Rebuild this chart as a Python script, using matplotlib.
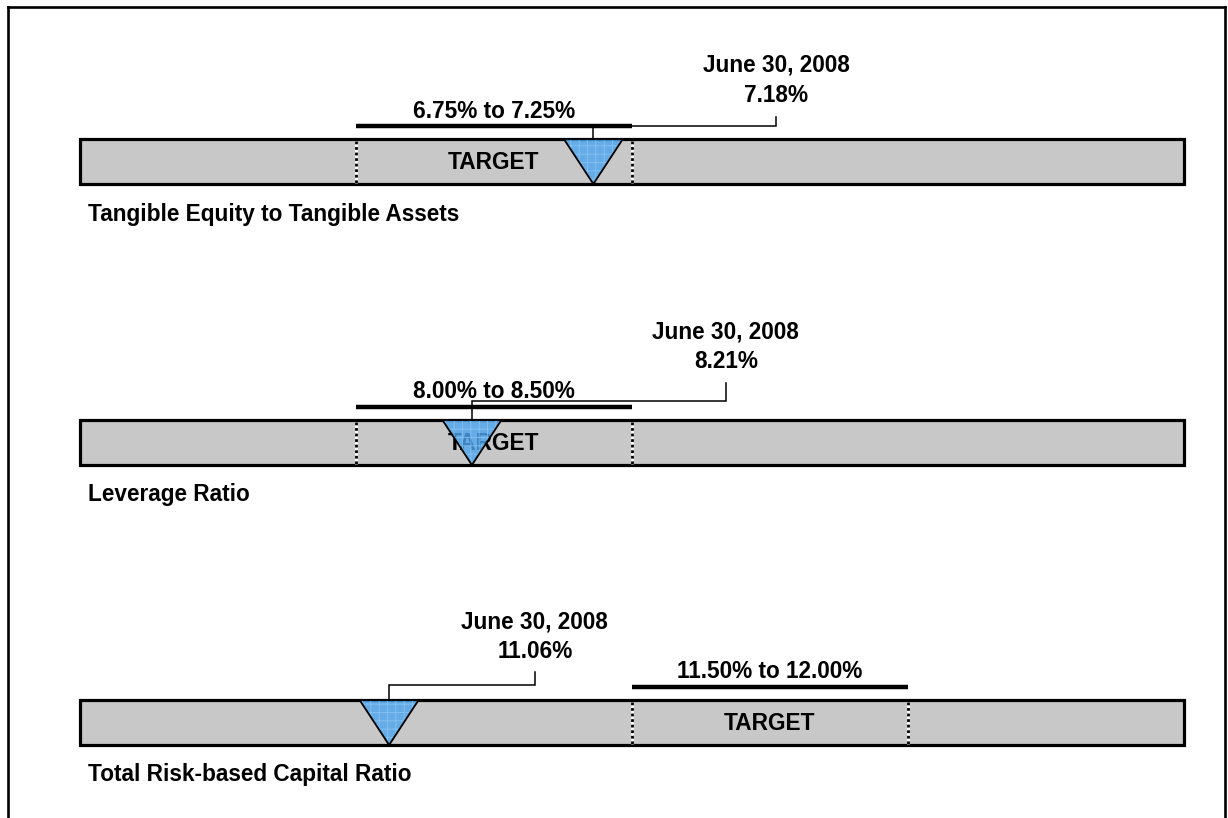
import matplotlib
matplotlib.use("Agg")
import matplotlib.pyplot as plt
from matplotlib.patches import Polygon
from matplotlib.lines import Line2D

plt.rcParams['font.family'] = ['Liberation Sans', 'DejaVu Sans']
plt.rcParams['hatch.linewidth'] = 0.6

# ---- data ----
titles = ["Tangible Equity to Tangible Assets", "Leverage Ratio", "Total Risk-based Capital Ratio"]
target_lo = [6.75, 8.00, 11.50]
target_hi = [7.25, 8.50, 12.00]
target_labels = ["6.75% to 7.25%", "8.00% to 8.50%", "11.50% to 12.00%"]
actual = [7.18, 8.21, 11.06]
actual_labels = ["7.18%", "8.21%", "11.06%"]
date_label = "June 30, 2008"
scale_min = [6.25, 7.50, 10.50]
scale_max = [8.25, 9.50, 12.50]

# ---- layout (pixels) ----
W, H = 1228, 818
bar_tops = [139, 420, 700]
bar_h = 45
ax_left, ax_right = 80, 1184
callout_x = [7.511, 8.670, 11.324]          # data coords of label column
callout_horiz = [-13, -19, -15]
callout_top = [-22, -37, -28]
value_y = [-44, -58, -48]
date_y = [-74, -88, -78]
fs = 16.3
tri_half = 29.5 / 552.0

fig = plt.figure(figsize=(W / 100, H / 100), dpi=100)
fig.patch.set_facecolor('white')

# outer frame
lw_frame = 1.9
fig.add_artist(Line2D([8 / W, 8 / W], [0, 1 - 7 / H], transform=fig.transFigure, color='black', lw=lw_frame))
fig.add_artist(Line2D([8 / W, 1225 / W], [1 - 7 / H, 1 - 7 / H], transform=fig.transFigure, color='black', lw=lw_frame))
fig.add_artist(Line2D([1225 / W, 1225 / W], [1 - 7 / H, 0], transform=fig.transFigure, color='black', lw=lw_frame))

for i in range(3):
    T = bar_tops[i]
    ax = fig.add_axes([ax_left / W, 1 - (T + 100) / H, (ax_right - ax_left) / W, 200 / H])
    ax.set_xlim(scale_min[i], scale_max[i])
    ax.set_ylim(100, -100)
    ax.axis('off')

    # gray bar
    ax.barh(bar_h / 2, scale_max[i] - scale_min[i], left=scale_min[i], height=bar_h,
            color='#c8c8c8', edgecolor='black', linewidth=2.3, zorder=1, clip_on=False)

    # target boundaries (dotted)
    for xv in (target_lo[i], target_hi[i]):
        ax.vlines(xv, 1.5, bar_h - 1.5, colors='white', linewidth=2.0, zorder=2)
        ax.vlines(xv, 1.5, bar_h - 1.5, colors='black', linewidth=2.0, linestyles=(0, (1.0, 1.0)), zorder=2.1)

    # TARGET text
    tmid = (target_lo[i] + target_hi[i]) / 2
    ax.text(tmid, bar_h / 2 + 1, "TARGET", ha='center', va='center', fontsize=fs,
            fontweight='bold', zorder=3)

    # target range line + label
    ax.hlines(-13, target_lo[i], target_hi[i], colors='black', linewidth=3.2, zorder=5)
    ax.text(tmid, -28, target_labels[i], ha='center', va='center', fontsize=fs,
            fontweight='bold', zorder=5)

    # triangle marker
    v = actual[i]
    pts = [(v - tri_half, 0), (v + tri_half, 0), (v, bar_h)]
    ax.add_patch(Polygon(pts, closed=True, facecolor='#4da6f0', edgecolor='#8cc8f5', alpha=0.8,
                         hatch='++', linewidth=0, zorder=4))
    ax.add_patch(Polygon(pts, closed=True, facecolor='none', edgecolor='black',
                         linewidth=1.3, zorder=4.1))

    # callout
    cx = callout_x[i]
    ax.plot([v, v, cx, cx], [0, callout_horiz[i], callout_horiz[i], callout_top[i]],
            color='black', linewidth=1.1, zorder=6, solid_joinstyle='miter')
    ax.text(cx, value_y[i], actual_labels[i], ha='center', va='center', fontsize=fs,
            fontweight='bold', zorder=6)
    ax.text(cx, date_y[i], date_label, ha='center', va='center', fontsize=fs,
            fontweight='bold', zorder=6)

    # subtitle
    ax.text(0.007, bar_h + 30, titles[i], ha='left', va='center', fontsize=fs,
            fontweight='bold', transform=ax.get_yaxis_transform(), zorder=6)

fig.savefig("out.png", dpi=100, facecolor='white')
